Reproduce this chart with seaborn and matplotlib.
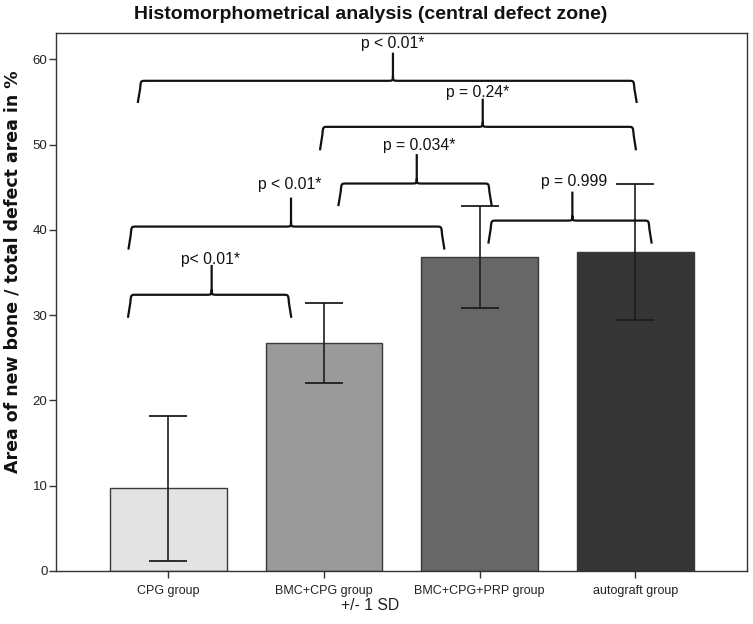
import matplotlib
matplotlib.use("Agg")
import matplotlib.pyplot as plt
import seaborn as sns
import numpy as np
import pandas as pd
from matplotlib.path import Path
from matplotlib.patches import PathPatch

# ---- data ----
groups = ["CPG group", "BMC+CPG group", "BMC+CPG+PRP group", "autograft group"]
means = [9.7, 26.7, 36.8, 37.4]
sds = [8.5, 4.7, 6.0, 7.95]
bar_colors = ["#e3e3e3", "#9a9a9a", "#676767", "#353535"]

# braces: left/right/center x, bottom/horizontal/tip y, text position, label
br_left = [-0.26, -0.257, 1.092, 2.056, 0.974, -0.197]
br_right = [0.79, 1.774, 2.078, 3.106, 3.005, 3.01]
br_center = [0.278, 0.788, 1.596, 2.596, 2.02, 1.443]
br_bottom = [29.7, 37.7, 42.8, 38.4, 49.35, 54.9]
br_hline = [32.4, 40.4, 45.45, 41.1, 52.1, 57.5]
br_tip = [35.9, 43.8, 48.9, 44.5, 55.4, 60.8]
br_text_y = [36.5, 45.3, 49.9, 45.7, 56.1, 61.9]
br_text_x = [0.27, 0.78, 1.61, 2.61, 1.99, 1.44]
br_labels = ["p< 0.01*", "p < 0.01*", "p = 0.034*", "p = 0.999", "p = 0.24*", "p < 0.01*"]

sns.set_style("white")
plt.rcParams["font.family"] = ["Liberation Sans", "DejaVu Sans"]

fig = plt.figure(figsize=(7.53, 6.24), dpi=100)
ax = fig.add_axes([0.074, 0.085, 0.918, 0.862])

df = pd.DataFrame({"group": groups, "mean": means})
sns.barplot(data=df, x="group", y="mean", hue="group", palette=bar_colors,
            legend=False, errorbar=None, width=0.75, edgecolor="#3a3a3a",
            linewidth=1.0, ax=ax, zorder=2)

xs = np.arange(len(groups))
ax.errorbar(xs, means, yerr=sds, fmt="none", ecolor="#1e1e1e", elinewidth=1.2,
            capsize=13.7, capthick=1.3, zorder=3)

ax.set_xlim(-0.724, 3.718)
ax.set_ylim(0, 63.1)
ax.set_yticks([0, 10, 20, 30, 40, 50, 60])
ax.tick_params(axis="y", direction="out", length=5, width=1, colors="#333333",
               labelsize=9.5, pad=1, left=True)
ax.tick_params(axis="x", direction="out", length=5, width=1, colors="#333333",
               labelsize=9, pad=5, bottom=True)
for lab in ax.get_xticklabels() + ax.get_yticklabels():
    lab.set_color("#222222")

for sp in ax.spines.values():
    sp.set_visible(True)
    sp.set_color("#333333")
    sp.set_linewidth(1.0)

ax.set_xlabel("+/- 1 SD", fontsize=11.3, color="#222222")
ax.xaxis.set_label_coords(0.455, -0.05)
ax.set_ylabel("Area of new bone / total defect area in %", fontsize=12.5,
              fontweight="bold", color="#111111", family=["DejaVu Sans"])
ax.yaxis.set_label_coords(-0.05, 0.557)

fig.text(0.492, 0.977, "Histomorphometrical analysis (central defect zone)",
         ha="center", va="center", fontsize=14, fontweight="bold", color="#111111")

# braces
cx = 8 / 155.6
cy = 8 / 8.53
mx = 6 / 155.6
my = 5 / 8.53
for xl, xr, xm, yb, yh, yt in zip(br_left, br_right, br_center, br_bottom, br_hline, br_tip):
    verts = [
        (xl, yb), (xl + 0.4 * mx, yh - cy),
        (xl + 0.5 * mx, yh), (xl + 0.5 * mx, yh), (xl + cx, yh),
        (xm - mx, yh),
        (xm, yh), (xm, yh), (xm, yh + my),
        (xm, yt),
        (xm, yh + my),
        (xm, yh), (xm, yh), (xm + mx, yh),
        (xr - cx, yh),
        (xr - 0.5 * mx, yh), (xr - 0.5 * mx, yh), (xr - 0.4 * mx, yh - cy),
        (xr, yb),
    ]
    codes = [
        Path.MOVETO, Path.LINETO,
        Path.CURVE4, Path.CURVE4, Path.CURVE4,
        Path.LINETO,
        Path.CURVE4, Path.CURVE4, Path.CURVE4,
        Path.LINETO,
        Path.MOVETO,
        Path.CURVE4, Path.CURVE4, Path.CURVE4,
        Path.LINETO,
        Path.CURVE4, Path.CURVE4, Path.CURVE4,
        Path.LINETO,
    ]
    ax.add_patch(PathPatch(Path(verts, codes), fill=False, edgecolor="#111111",
                           linewidth=1.6, zorder=4, capstyle="butt"))

for tx, ty, lab in zip(br_text_x, br_text_y, br_labels):
    ax.text(tx, ty, lab, ha="center", va="center", fontsize=11.3, color="#111111", zorder=5)

fig.savefig("out.png", dpi=100, facecolor="white")
